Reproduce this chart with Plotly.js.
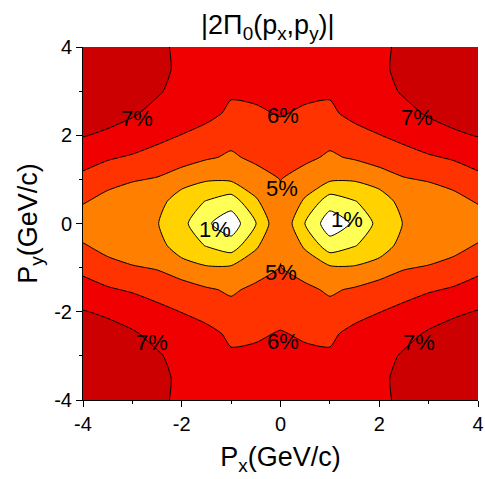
<!DOCTYPE html>
<html><head><meta charset="utf-8">
<script src="https://cdn.plot.ly/plotly-3.0.1.min.js"></script>
<style>html,body{margin:0;padding:0;background:#fff}#chart{width:485px;height:479px}</style>
</head><body><div id="chart"></div>
<script>
// momentum grid (GeV/c)
const px = [-4,-3.5,-3,-2.5,-2,-1.5,-1,-0.5,0,0.5,1,1.5,2,2.5,3,3.5,4];
const py = [-4,-3.5,-3,-2.5,-2,-1.5,-1,-0.5,0,0.5,1,1.5,2,2.5,3,3.5,4];
// |2 Pi_0(px,py)| in percent, rows from py=-4 to py=4
const pi0 = [
 [8.1,8.0,7.9,7.2,6.8,6.65,6.4,6.35,6.35,6.35,6.4,6.65,6.8,7.2,7.9,8.0,8.1],
 [8.0,7.9,7.75,7.2,6.85,6.6,6.3,6.3,6.3,6.3,6.3,6.6,6.85,7.2,7.75,7.9,8.0],
 [7.8,7.7,7.5,7.1,6.7,6.5,6.1,6.15,6.2,6.15,6.1,6.5,6.7,7.1,7.5,7.7,7.8],
 [7.5,7.35,7.1,6.75,6.4,6.25,5.85,5.9,6.05,5.9,5.85,6.25,6.4,6.75,7.1,7.35,7.5],
 [7.05,6.85,6.6,6.3,5.98,5.7,5.4,5.6,5.75,5.6,5.4,5.7,5.98,6.3,6.6,6.85,7.05],
 [6.4,6.1,5.9,5.6,5.65,5.15,4.83,5.25,5.4,5.25,4.83,5.15,5.65,5.6,5.9,6.1,6.4],
 [5.75,5.4,5.08,4.93,4.2,3.8,3.87,4.47,5.02,4.47,3.87,3.8,4.2,4.93,5.08,5.4,5.75],
 [5.1,4.6,4.4,4.13,3.0,2.27,1.6,3.47,4.91,3.47,1.6,2.27,3.0,4.13,4.4,4.6,5.1],
 [4.33,4.2,4.07,3.73,2.73,1.2,0.2,2.3,4.87,2.3,0.2,1.2,2.73,3.73,4.07,4.2,4.33],
 [5.1,4.6,4.4,4.13,3.0,2.27,1.6,3.47,4.91,3.47,1.6,2.27,3.0,4.13,4.4,4.6,5.1],
 [5.75,5.4,5.08,4.93,4.2,3.8,3.87,4.47,5.02,4.47,3.87,3.8,4.2,4.93,5.08,5.4,5.75],
 [6.4,6.1,5.9,5.6,5.65,5.15,4.83,5.25,5.4,5.25,4.83,5.15,5.65,5.6,5.9,6.1,6.4],
 [7.05,6.85,6.6,6.3,5.98,5.7,5.4,5.6,5.75,5.6,5.4,5.7,5.98,6.3,6.6,6.85,7.05],
 [7.5,7.35,7.1,6.75,6.4,6.25,5.85,5.9,6.05,5.9,5.85,6.25,6.4,6.75,7.1,7.35,7.5],
 [7.8,7.7,7.5,7.1,6.7,6.5,6.1,6.15,6.2,6.15,6.1,6.5,6.7,7.1,7.5,7.7,7.8],
 [8.0,7.9,7.75,7.2,6.85,6.6,6.3,6.3,6.3,6.3,6.3,6.6,6.85,7.2,7.75,7.9,8.0],
 [8.1,8.0,7.9,7.2,6.8,6.65,6.4,6.35,6.35,6.35,6.4,6.65,6.8,7.2,7.9,8.0,8.1]
];
// contour levels (percent) and band colours
const bandEdges = [1, 1+4/3, 1+8/3, 5, 6, 7];
const bandColors = ['#FFFFFF','#FFFF55','#FFD200','#FF8000','#FF3300','#F00000','#CC0000'];
const xTickVals = [-4,-2,0,2,4];
const xTickText = ['-4','-2','0','2','4'];
const yTickVals = [-4,-2,0,2,4];
const yTickText = ['-4','-2','0','2','4'];
const minorTickVals = [-3,-1,1,3];
const labelText = ['7%','7%','7%','7%','6%','6%','5%','5%','1%','1%'];

const FONT = 'Liberation Sans, Arial, sans-serif';
const SM = 0.6;
const sub = 1/3;
const nLev = Math.round((bandEdges[5]-bandEdges[0])/sub) + 1;
const nBands = nLev + 1;
const cs = [];
for (let i = 0; i < nBands; i++) {
  const v = bandEdges[0] + (i - 0.5) * sub;
  let b = 0;
  for (let k = 0; k < bandEdges.length; k++) if (v > bandEdges[k] + 1e-9) b = k + 1;
  cs.push([i/(nBands-1), bandColors[b]]);
}

const common = {x: px, y: py, z: pi0, type: 'contour', showscale: false, hoverinfo: 'skip', autocontour: false};
const traces = [
  Object.assign({}, common, {
    colorscale: cs,
    contours: {start: bandEdges[0], end: bandEdges[5], size: sub, coloring: 'fill', showlines: false},
    line: {width: 0, smoothing: SM}
  }),
  Object.assign({}, common, {
    contours: {start: bandEdges[0], end: bandEdges[3], size: bandEdges[1]-bandEdges[0], coloring: 'none'},
    line: {color: '#000', width: 1, smoothing: SM}
  }),
  Object.assign({}, common, {
    contours: {start: bandEdges[4], end: bandEdges[5], size: bandEdges[5]-bandEdges[4], coloring: 'none'},
    line: {color: '#000', width: 1, smoothing: SM}
  }),
  // empty trace that carries the minor-tick axes
  {type: 'scatter', x: [], y: [], xaxis: 'x2', yaxis: 'y2', hoverinfo: 'skip', showlegend: false}
];

// contour label placement (data coordinates)
const labelPos = [[-2.91,2.39],[2.76,2.41],[-2.6,-2.69],[2.8,-2.69],[0.05,2.44],[0.05,-2.67],[0.03,0.8],[0,-1.1],[-1.33,-0.13],[1.34,0.08]];
const annotations = labelText.map((t, i) => ({
  x: labelPos[i][0], y: labelPos[i][1], xref: 'x', yref: 'y', text: t, showarrow: false,
  font: {family: FONT, size: 22, color: '#000'}, xanchor: 'center', yanchor: 'middle'
}));

const axisCommon = {
  range: [-4, 4], showgrid: false, zeroline: false, showline: true, linecolor: '#000', linewidth: 1,
  ticks: 'outside', ticklen: 6, tickwidth: 1, tickcolor: '#000',
  tickfont: {family: FONT, size: 20, color: '#000'}, tickmode: 'array'
};
const minorAxis = {
  range: [-4, 4], showgrid: false, zeroline: false, showline: false, showticklabels: false,
  ticks: 'outside', ticklen: 3, tickwidth: 1, tickcolor: '#000', tickmode: 'array', tickvals: minorTickVals
};
const layout = {
  width: 485, height: 479,
  margin: {l: 83, r: 7, t: 47, b: 79},
  paper_bgcolor: '#fff', plot_bgcolor: '#fff',
  font: {family: FONT, color: '#000'},
  title: {text: '|2Π<sub>0</sub>(p<sub>x</sub>,p<sub>y</sub>)|', font: {family: FONT, size: 27, color: '#000'},
    xref: 'paper', x: 0.468, xanchor: 'center', yref: 'container', y: 0.948, yanchor: 'middle'},
  xaxis: Object.assign({}, axisCommon, {tickvals: xTickVals, ticktext: xTickText,
    title: {text: 'P<sub>x</sub>(GeV/c)', font: {family: FONT, size: 27, color: '#000'}, standoff: 13}}),
  yaxis: Object.assign({}, axisCommon, {tickvals: yTickVals, ticktext: yTickText,
    title: {text: 'P<sub>y</sub>(GeV/c)', font: {family: FONT, size: 27, color: '#000'}, standoff: 8}}),
  xaxis2: Object.assign({}, minorAxis, {overlaying: 'x', anchor: 'y', side: 'bottom'}),
  yaxis2: Object.assign({}, minorAxis, {overlaying: 'y', anchor: 'x', side: 'left'}),
  annotations: annotations,
  showlegend: false
};
Plotly.newPlot('chart', traces, layout, {displayModeBar: false, staticPlot: true});
</script>
</body></html>
